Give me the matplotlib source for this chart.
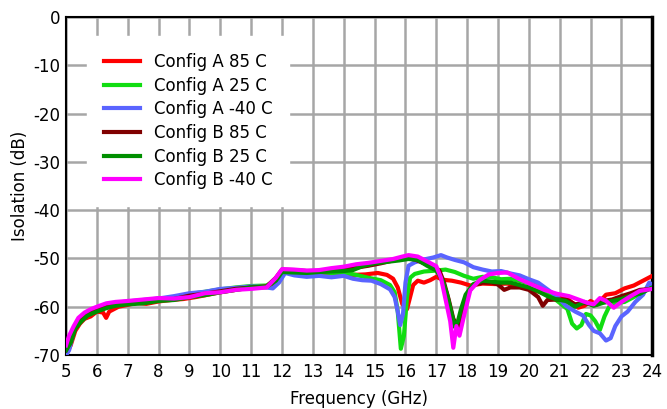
import matplotlib
matplotlib.use("Agg")
import matplotlib.pyplot as plt

a85_f = [5.0, 5.15, 5.3, 5.45, 5.6, 5.8, 6.0, 6.2, 6.3, 6.4, 6.7, 7.0, 7.3, 7.6, 8.0, 8.4, 8.8, 9.2, 9.6,
         10.0, 10.4, 10.8, 11.2, 11.6, 11.8, 12.0, 12.3, 12.7, 13.1, 13.5, 13.9, 14.3, 14.7, 15.1, 15.4,
         15.6, 15.75, 15.9, 16.05, 16.15, 16.25, 16.4, 16.6, 16.8, 17.0, 17.2, 17.5, 17.8, 18.1, 18.5,
         18.9, 19.3, 19.7, 20.1, 20.5, 20.9, 21.3, 21.6, 21.8, 22.0, 22.2, 22.5, 22.8, 23.1, 23.4, 23.7, 24.0]
a85_db = [-70, -68, -65, -63.5, -62.5, -62, -61, -61.2, -62.3, -61, -60, -59.6, -59.2, -59.4, -58.9, -58.6,
          -58.4, -58, -57.5, -57, -56.6, -56.2, -56, -55.9, -54.8, -52.8, -52.6, -52.9, -52.8, -53.1, -53.2,
          -53.4, -53.3, -53.0, -53.4, -54.2, -56, -59.5, -60.5, -58, -55.5, -54.6, -55, -54.5, -53.8, -54.4,
          -54.6, -55, -55.6, -55.2, -55.3, -55.2, -55.8, -56.5, -57.2, -58, -58.6, -60.2, -59.8, -58.8, -59.6,
          -57.5, -57.2, -56.2, -55.6, -54.6, -53.6]

a25_f = [5.0, 5.15, 5.3, 5.5, 5.7, 6.0, 6.3, 6.6, 7.0, 7.5, 8.0, 8.5, 9.0, 9.5, 10.0, 10.5, 11.0, 11.5, 11.8,
         12.0, 12.4, 12.8, 13.2, 13.6, 14.0, 14.4, 14.8, 15.2, 15.5, 15.65, 15.75, 15.85, 15.95, 16.05, 16.15,
         16.3, 16.6, 17.0, 17.3, 17.6, 17.9, 18.2, 18.5, 18.8, 19.1, 19.4, 19.8, 20.2, 20.6, 21.0, 21.25, 21.4,
         21.55, 21.7, 21.85, 22.0, 22.15, 22.3, 22.45, 22.6, 22.85, 23.1, 23.4, 23.7, 24.0]
a25_db = [-69.5, -66, -64, -62.5, -61.5, -60.5, -60, -59.5, -59.3, -58.8, -58.3, -58.1, -57.4, -56.9, -56.4,
          -56, -55.7, -55.6, -54.5, -52.6, -52.9, -53, -52.8, -53, -52.9, -53.4, -54, -54.5, -55.5, -57, -61,
          -68.7, -66, -58, -54, -53.2, -52.7, -52.5, -52.3, -52.8, -53.6, -54.2, -53.8, -53.9, -54.3, -54.2,
          -54.8, -55.5, -57.2, -59.2, -60.5, -63.5, -64.5, -63.8, -61.5, -61.8, -63, -64.8, -62, -60, -59.2,
          -59, -58, -57, -55.5]

am40_f = [5.0, 5.1, 5.25, 5.4, 5.6, 5.8, 6.0, 6.3, 6.6, 7.0, 7.5, 8.0, 8.5, 9.0, 9.5, 10.0, 10.5, 11.0, 11.4,
          11.7, 11.9, 12.1, 12.4, 12.8, 13.2, 13.6, 14.0, 14.3, 14.6, 14.9, 15.2, 15.5, 15.65, 15.75, 15.83,
          15.92, 16.0, 16.1, 16.3, 16.6, 16.9, 17.15, 17.35, 17.6, 17.9, 18.2, 18.5, 18.8, 19.1, 19.4, 19.7,
          20.0, 20.3, 20.6, 20.9, 21.2, 21.5, 21.75, 21.95, 22.1, 22.3, 22.5, 22.65, 22.8, 23.0, 23.2, 23.45,
          23.7, 23.9, 24.0]
am40_db = [-70, -69, -65, -63.5, -62, -61, -60.3, -59.7, -59.2, -58.9, -58.6, -58.3, -57.8, -57.2, -56.9,
           -56.3, -56.1, -55.8, -55.9, -56.2, -55, -53, -53.5, -53.8, -53.6, -53.9, -53.6, -54.2, -54.5,
           -54.6, -55.3, -56.4, -58, -61, -63.8, -61.5, -55, -51.5, -50.8, -50.2, -49.8, -49.3, -49.8, -50.3,
           -50.8, -51.8, -52.3, -52.7, -52.6, -53.1, -53.5, -54.3, -55, -56.4, -57.8, -59.8, -61, -61.8, -63.8,
           -65, -65.5, -67, -66.5, -64, -62, -61, -59, -57.5, -55, -55.5]

b85_f = [5.0, 5.15, 5.3, 5.5, 5.7, 6.0, 6.3, 6.6, 7.0, 7.5, 8.0, 8.5, 9.0, 9.5, 10.0, 10.5, 11.0, 11.5, 11.8,
         12.0, 12.4, 12.8, 13.2, 13.6, 14.0, 14.4, 14.8, 15.2, 15.6, 16.0, 16.3, 16.6, 16.9, 17.1, 17.25, 17.4,
         17.55, 17.65, 17.75, 17.85, 18.0, 18.2, 18.5, 18.8, 19.0, 19.2, 19.4, 19.7, 20.0, 20.3, 20.45, 20.6,
         20.9, 21.2, 21.5, 21.8, 22.1, 22.4, 22.7, 23.0, 23.3, 23.6, 24.0]
b85_db = [-69, -67, -64.5, -62.5, -61.3, -60.5, -60, -59.6, -59.4, -59, -58.6, -58.4, -57.7, -57.3, -56.8,
          -56.3, -56, -55.8, -54, -52.3, -52.4, -52.6, -52.6, -52.3, -52.2, -51.9, -51.5, -51, -50.4, -49.9,
          -50.2, -51, -51.6, -52.5, -55, -58.5, -62.5, -63.5, -64, -61, -57.5, -55.5, -55, -55, -55.4, -56.5,
          -56, -56, -56.5, -58, -59.8, -58.6, -58.5, -58.5, -59.5, -59.2, -59.6, -58.8, -58.5, -57.8, -57.2,
          -56.5, -56.3]

b25_f = [5.0, 5.15, 5.3, 5.5, 5.7, 6.0, 6.3, 6.6, 7.0, 7.5, 8.0, 8.5, 9.0, 9.5, 10.0, 10.5, 11.0, 11.5, 11.8,
         12.0, 12.4, 12.8, 13.2, 13.6, 14.0, 14.3, 14.6, 15.0, 15.4, 15.8, 16.1, 16.4, 16.7, 17.0, 17.2, 17.35,
         17.5, 17.6, 17.7, 17.8, 17.95, 18.2, 18.5, 18.8, 19.1, 19.4, 19.7, 20.0, 20.3, 20.6, 20.9, 21.2, 21.5,
         21.8, 22.1, 22.4, 22.7, 23.0, 23.3, 23.6, 24.0]
b25_db = [-69, -67.5, -64.5, -63, -61.8, -61, -60.3, -59.8, -59.5, -59.3, -58.8, -58.6, -58, -57.6, -57,
          -56.5, -56, -55.9, -54.6, -52.8, -52.9, -53, -52.8, -52.7, -52.6, -52.4, -51.6, -51, -50.7, -50.4,
          -50.1, -50.3, -51.5, -52.5, -54.5, -57.5, -61.5, -64.2, -63, -60.5, -57.5, -55.3, -54.6, -54.8, -55,
          -55, -55.5, -56, -56.8, -57.8, -58.5, -58.8, -60, -59, -59.8, -59.2, -58.8, -58.4, -57.7, -57.3, -56]

bm40_f = [5.0, 5.1, 5.25, 5.4, 5.6, 5.8, 6.0, 6.3, 6.6, 7.0, 7.5, 8.0, 8.5, 9.0, 9.5, 10.0, 10.5, 11.0, 11.5,
          11.8, 12.0, 12.4, 12.8, 13.2, 13.6, 14.0, 14.4, 14.8, 15.2, 15.6, 15.9, 16.1, 16.4, 16.7, 17.0,
          17.15, 17.3, 17.45, 17.55, 17.65, 17.75, 17.9, 18.1, 18.4, 18.7, 19.0, 19.3, 19.7, 20.1, 20.5, 20.9,
          21.3, 21.6, 21.9, 22.1, 22.3, 22.5, 22.75, 23.0, 23.3, 23.6, 24.0]
bm40_db = [-68, -66, -64, -62.3, -61.2, -60.5, -60, -59.3, -59, -58.8, -58.5, -58.2, -58.3, -58, -57.2, -57,
           -56.5, -56.3, -56, -54, -52.2, -52.3, -52.5, -52.4, -52, -51.7, -51.2, -50.9, -50.5, -50.1, -49.6,
           -49.3, -49.6, -50.6, -51.6, -54, -58.5, -63, -68.5, -64, -66, -61.8, -56.6, -54.5, -53.3, -53,
           -52.9, -54.3, -55.4, -56.5, -57.3, -57.8, -58.5, -59.2, -59.5, -58.2, -58.8, -60.2, -59, -57.8,
           -56.7, -56.3]

labels = ["Config A 85 C", "Config A 25 C", "Config A -40 C", "Config B 85 C", "Config B 25 C", "Config B -40 C"]
colors = ["#ff0000", "#11dd11", "#5a64ff", "#800000", "#008f00", "#ff00ff"]
series = [(a85_f, a85_db), (a25_f, a25_db), (am40_f, am40_db),
          (b85_f, b85_db), (b25_f, b25_db), (bm40_f, bm40_db)]

plt.rcParams["font.family"] = ["DejaVu Sans"]
plt.rcParams["axes.unicode_minus"] = False

fig = plt.figure(figsize=(6.67, 4.09), dpi=100)
ax = fig.add_axes([0.099, 0.132, 0.879, 0.826])

# draw back to front so the B curves sit on top like the original
order = [2, 1, 0, 4, 3, 5]
for i in order:
    f, db = series[i]
    ax.plot(f, db, color=colors[i], lw=3, label=labels[i], solid_joinstyle="round", zorder=3 + i)

ax.set_xlim(5, 24)
ax.set_ylim(-70, 0)
ax.set_xticks(range(5, 25))
ax.set_yticks(range(-70, 1, 10))
ax.grid(True, color="#a6a6a6", lw=1.8)
ax.set_axisbelow(True)
ax.tick_params(axis="x", length=0, pad=6, labelsize=12)
ax.tick_params(axis="y", length=0, pad=4, labelsize=12)
for s in ax.spines.values():
    s.set_color("black")
    s.set_linewidth(1.5)
ax.spines["right"].set_linewidth(2.5)

ax.set_xlabel("Frequency (GHz)", fontsize=12, labelpad=6)
ax.set_ylabel("Isolation (dB)", fontsize=12, labelpad=3)

h, l = ax.get_legend_handles_labels()
idx = [l.index(x) for x in labels]
ax.legend([h[k] for k in idx], labels, loc="upper left", bbox_to_anchor=(0.022, 0.968),
          frameon=True, facecolor="white", edgecolor="white", framealpha=1, fancybox=False,
          handlelength=2.15, handletextpad=0.84, labelspacing=0.34, fontsize=12, borderpad=1.0)

fig.savefig("out.png", dpi=100)
